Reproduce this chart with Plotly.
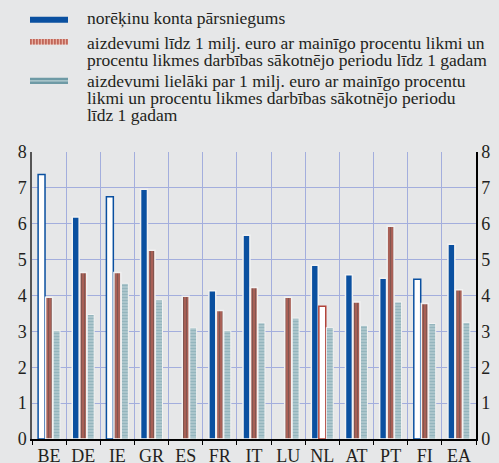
import plotly.graph_objects as go

# Data
countries = ['BE', 'DE', 'IE', 'GR', 'ES', 'FR', 'IT', 'LU', 'NL', 'AT', 'PT', 'FI', 'EA']
overdraft = [7.37, 6.19, 6.75, 6.96, None, 4.13, 5.68, None, 4.84, 4.58, 4.48, 4.45, 5.43]
loans_small = [3.95, 4.64, 4.64, 5.26, 3.98, 3.58, 4.22, 3.95, 3.70, 3.82, 5.93, 3.78, 4.16]
loans_large = [3.02, 3.47, 4.34, 3.88, 3.10, 3.02, 3.24, 3.37, 3.11, 3.17, 3.82, 3.22, 3.25]
hollow_overdraft = ['BE', 'IE', 'FI']
hollow_small = ['NL']

legend_lines = [
    ['norēķinu konta pārsniegums'],
    ['aizdevumi līdz 1 milj. euro ar mainīgo procentu likmi un',
     'procentu likmes darbības sākotnējo periodu līdz 1 gadam'],
    ['aizdevumi lielāki par 1 milj. euro ar mainīgo procentu',
     'likmi un procentu likmes darbības sākotnējo periodu',
     'līdz 1 gadam'],
]

COLORS = {
    'bg': '#E6E7E8',
    'grid': '#A3AEDD',
    'blue': '#0A50A0',
    'red': '#C0675A',
    'red_light': '#E8AFA2',
    'red_dark': '#B2443A',
    'teal': '#6E9AA5',
    'teal_light': '#BAD0D5',
    'text': '#231F20',
}
FONT = '"Times New Roman", "Liberation Serif", "DejaVu Serif", serif'

W, H = 499, 463
L, R, T, B = 32, 23, 152, 24


def px_x(px):
    return (px - L) / (W - L - R)


def px_y(py):
    return (H - B - py) / (H - T - B)


fig = go.Figure()

fig.add_trace(go.Bar(
    x=countries, y=overdraft, name=legend_lines[0][0],
    marker=dict(
        color=['white' if c in hollow_overdraft else COLORS['blue'] for c in countries],
        line=dict(color=[COLORS['blue'] if c in hollow_overdraft else '#F2F2F2' for c in countries],
                  width=1.5),
    ),
    showlegend=False,
))

fig.add_trace(go.Bar(
    x=countries, y=loans_small,
    marker=dict(
        color=['white' if c in hollow_small else COLORS['red'] for c in countries],
        line=dict(color=[COLORS['red_dark'] if c in hollow_small else '#F2F2F2' for c in countries],
                  width=1.5),
        pattern=dict(
            shape=['' if c in hollow_small else '|' for c in countries],
            bgcolor=['white' if c in hollow_small else COLORS['red_light'] for c in countries],
            fgcolor=COLORS['red'], size=3, solidity=0.6,
        ),
    ),
    showlegend=False,
))

fig.add_trace(go.Bar(
    x=countries, y=loans_large,
    marker=dict(
        color=COLORS['teal'],
        line=dict(color='#F2F2F2', width=1),
        pattern=dict(shape='-', bgcolor=COLORS['teal_light'], fgcolor=COLORS['teal'],
                     size=3, solidity=0.6),
    ),
    showlegend=False,
))

# dummy trace so the right axis is drawn
fig.add_trace(go.Scatter(x=[countries[0]], y=[None], yaxis='y2', showlegend=False,
                         hoverinfo='skip'))

# Legend drawn by hand: long swatches + multi-line text
shapes = []
sw_x0, sw_x1 = px_x(30), px_x(68)
# blue
shapes.append(dict(type='rect', xref='paper', yref='paper', x0=sw_x0, x1=sw_x1,
                   y0=px_y(22.7), y1=px_y(16.7), fillcolor=COLORS['blue'], line_width=0))
# red striped
shapes.append(dict(type='rect', xref='paper', yref='paper', x0=sw_x0, x1=sw_x1,
                   y0=px_y(44.5), y1=px_y(39), fillcolor=COLORS['red_light'], line_width=0))
for k in range(13):
    shapes.append(dict(type='rect', xref='paper', yref='paper',
                       x0=px_x(30 + 3 * k), x1=px_x(31.8 + 3 * k),
                       y0=px_y(44.5), y1=px_y(39), fillcolor=COLORS['red'], line_width=0))
# teal
shapes.append(dict(type='rect', xref='paper', yref='paper', x0=sw_x0, x1=sw_x1,
                   y0=px_y(84), y1=px_y(77.7), fillcolor=COLORS['teal'], line_width=0))
shapes.append(dict(type='rect', xref='paper', yref='paper', x0=sw_x0, x1=sw_x1,
                   y0=px_y(81.6), y1=px_y(80.2), fillcolor=COLORS['teal_light'], line_width=0))

annotations = []
line_y = [[18.5], [43, 59.5], [81, 98, 115]]
for lines, ys in zip(legend_lines, line_y):
    for txt, y in zip(lines, ys):
        annotations.append(dict(
            text=txt, xref='paper', yref='paper', x=px_x(85), y=px_y(y),
            xanchor='left', yanchor='middle', showarrow=False,
            font=dict(family=FONT, size=17.5, color=COLORS['text']),
        ))

fig.update_layout(
    width=W, height=H,
    margin=dict(l=L, r=R, t=T, b=B),
    paper_bgcolor=COLORS['bg'], plot_bgcolor=COLORS['bg'],
    barmode='group', bargap=0.34, bargroupgap=0.08,
    font=dict(family=FONT, size=18, color=COLORS['text']),
    shapes=shapes, annotations=annotations,
    showlegend=False,
)

fig.update_xaxes(
    type='category', range=[-0.5, 12.5], automargin=False, tickangle=0,
    showgrid=True, gridcolor=COLORS['grid'], gridwidth=1.3,
    tickson='boundaries', ticks='outside', ticklen=4, tickcolor='black',
    showline=True, linecolor='black', linewidth=1.5,
    tickfont=dict(family=FONT, size=18), fixedrange=True,
)
fig.update_layout(
    yaxis=dict(range=[0, 8], dtick=1, showgrid=True, gridcolor=COLORS['grid'], gridwidth=1.3,
               zeroline=False, showline=True, linecolor='#555555', linewidth=1.5,
               automargin=False, tickfont=dict(family=FONT, size=18), ticks=''),
    yaxis2=dict(range=[0, 8], dtick=1, overlaying='y', side='right', showgrid=False,
                zeroline=False, showline=True, linecolor='black', linewidth=1.5,
                automargin=False, tickfont=dict(family=FONT, size=18), ticks=''),
)

# the page's default body margin would shift the figure
fig.write_html('out.html', config={'displayModeBar': False},
               post_script="document.body.style.margin = '0';")
